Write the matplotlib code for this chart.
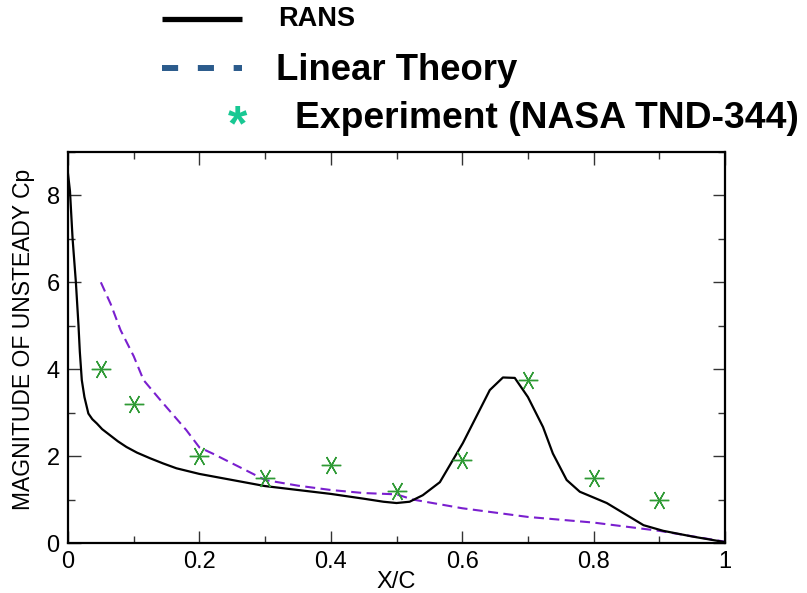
import matplotlib
matplotlib.use("Agg")
import matplotlib.pyplot as plt
from matplotlib.lines import Line2D
from matplotlib.ticker import MultipleLocator

plt.rcParams['font.family'] = ['Liberation Sans', 'DejaVu Sans']

# RANS unsteady pressure magnitude along the chord
rans_x = [0.0, 0.003, 0.007, 0.012, 0.016, 0.018, 0.021, 0.025, 0.031, 0.037, 0.044,
          0.052, 0.064, 0.076, 0.089, 0.105, 0.125, 0.145, 0.165, 0.2, 0.25, 0.3,
          0.35, 0.4, 0.45, 0.48, 0.5, 0.52, 0.54, 0.566, 0.601, 0.642, 0.662,
          0.68, 0.70, 0.723, 0.738, 0.759, 0.779, 0.82, 0.876, 0.906, 0.95, 1.0]
rans_y = [8.5, 8.1, 7.0, 6.0, 5.0, 4.4, 3.75, 3.36, 2.98, 2.85, 2.75,
          2.62, 2.48, 2.34, 2.21, 2.08, 1.95, 1.83, 1.72, 1.59, 1.45, 1.31,
          1.22, 1.13, 1.02, 0.95, 0.92, 0.95, 1.1, 1.4, 2.3, 3.52, 3.81,
          3.8, 3.36, 2.67, 2.06, 1.45, 1.18, 0.92, 0.41, 0.28, 0.15, 0.02]

# Linear theory prediction
lin_x = [0.05, 0.065, 0.08, 0.1, 0.115, 0.14, 0.18, 0.2, 0.22, 0.27, 0.3,
         0.35, 0.4, 0.45, 0.5, 0.525, 0.6, 0.7, 0.8, 0.9, 1.0]
lin_y = [6.0, 5.5, 4.9, 4.3, 3.75, 3.3, 2.6, 2.2, 2.06, 1.68, 1.45,
         1.32, 1.22, 1.15, 1.12, 1.0, 0.8, 0.6, 0.47, 0.28, 0.03]

# Experimental data (NASA TN D-344)
exp_x = [0.05, 0.1, 0.2, 0.3, 0.4, 0.5, 0.6, 0.7, 0.8, 0.9]
exp_y = [4.0, 3.2, 2.0, 1.5, 1.8, 1.2, 1.9, 3.75, 1.5, 1.0]

x_ticks = [0, 0.2, 0.4, 0.6, 0.8, 1]
x_tick_labels = ['0', '0.2', '0.4', '0.6', '0.8', '1']
y_ticks = [0, 2, 4, 6, 8]
y_tick_labels = ['0', '2', '4', '6', '8']

legend_labels = ['RANS', 'Linear Theory', 'Experiment (NASA TND-344)']

W, H = 807, 593
fig = plt.figure(figsize=(W / 100, H / 100), dpi=100)
ax = fig.add_axes([68 / W, 1 - 543 / H, (725 - 68) / W, (543 - 152) / H])

ax.plot(rans_x, rans_y, color='black', lw=1.6, zorder=3)
ax.plot(lin_x, lin_y, color='#7a1fcf', lw=1.5, dashes=(4.8, 2.6), zorder=2)
ax.plot(exp_x, exp_y, linestyle='none', marker=(6, 2, 90), markersize=14,
        markeredgecolor='#2f9a35', markeredgewidth=1.0, zorder=4)

ax.set_xlim(0, 1)
ax.set_ylim(0, 9)
ax.set_xticks(x_ticks)
ax.set_xticklabels(x_tick_labels)
ax.set_yticks(y_ticks)
ax.set_yticklabels(y_tick_labels)
ax.xaxis.set_minor_locator(MultipleLocator(0.1))
ax.yaxis.set_minor_locator(MultipleLocator(1))
ax.tick_params(which='both', direction='in', top=True, right=True,
               labelsize=17, width=1.0, color='#333333')
ax.tick_params(which='major', length=9, pad=6)
ax.tick_params(which='minor', length=5)
for s in ax.spines.values():
    s.set_linewidth(1.6)

ax.set_xlabel('X/C', fontsize=17, labelpad=-2)
ax.set_ylabel('MAGNITUDE OF UNSTEADY Cp', fontsize=16.5)
ax.yaxis.set_label_coords(-0.050, 0.52)

# Legend drawn above the axes
fig.add_artist(Line2D([162 / W, 242 / W], [1 - 19 / H, 1 - 19 / H],
                      transform=fig.transFigure, color='black', lw=3.8,
                      solid_capstyle='butt'))
fig.add_artist(Line2D([162 / W, 242 / W], [1 - 68 / H, 1 - 68 / H],
                      transform=fig.transFigure, color='#2b5b8c', lw=4.3,
                      dashes=(2.7, 3.3), dash_capstyle='butt'))
fig.text(238 / W, 1 - 127 / H, '*', color='#18c893', fontsize=36,
         fontweight='bold', ha='center', va='center')

fig.text(278 / W, 1 - 19 / H, legend_labels[0], fontsize=19.5, fontweight='bold',
         ha='left', va='center')
fig.text(276 / W, 1 - 70 / H, legend_labels[1], fontsize=26.3, fontweight='bold',
         ha='left', va='center')
fig.text(295 / W, 1 - 118 / H, legend_labels[2], fontsize=26.8, fontweight='bold',
         ha='left', va='center')

fig.savefig('out.png', dpi=100)
